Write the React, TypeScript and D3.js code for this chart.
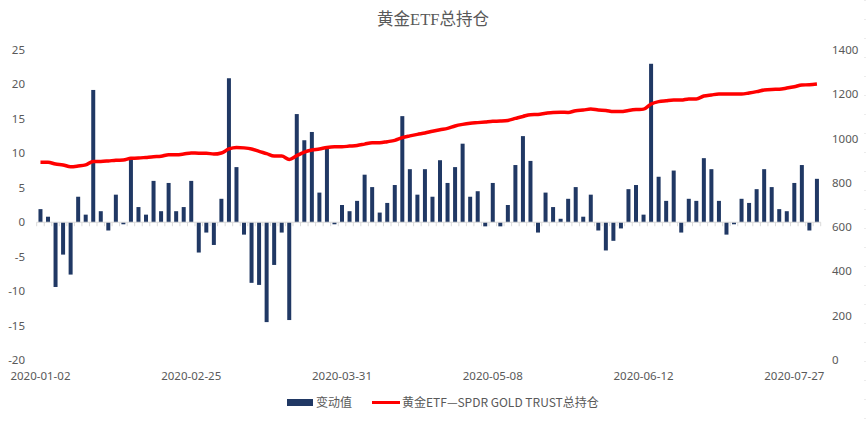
import React from 'react';
import * as d3 from 'd3';

// 变动值 (tonnes), one per trading record
const changes: number[] = [
  1.9, 0.8, -9.4, -4.7, -7.6, 3.7, 1.1, 19.2, 1.6, -1.2,
  4.0, -0.3, 9.1, 2.2, 1.1, 6.0, 1.6, 5.7, 1.6, 2.2,
  6.0, -4.4, -1.5, -3.3, 3.4, 20.9, 8.0, -1.8, -8.8, -9.1,
  -14.5, -6.2, -1.5, -14.2, 15.7, 11.9, 13.1, 4.3, 10.9, -0.3,
  2.5, 1.6, 3.1, 6.9, 5.1, 1.4, 2.8, 5.4, 15.4, 7.7,
  4.0, 7.7, 3.7, 9.0, 5.7, 8.0, 11.4, 3.7, 4.5, -0.6,
  5.7, -0.6, 2.5, 8.3, 12.5, 8.9, -1.5, 4.3, 2.2, 0.5,
  3.4, 5.1, 0.8, 4.0, -1.2, -4.1, -2.7, -0.9, 4.8, 5.4,
  1.1, 23.0, 6.6, 3.1, 7.5, -1.5, 3.4, 3.1, 9.3, 7.7,
  3.1, -1.8, -0.3, 3.4, 2.8, 4.8, 7.7, 5.1, 1.9, 1.6,
  5.7, 8.3, -1.2, 6.3,
];

// 黄金ETF—SPDR GOLD TRUST总持仓 (tonnes)
const holdings: number[] = [
  893, 893, 885, 881, 873, 876, 881, 897, 897, 899,
  902, 903, 911, 912, 915, 918, 920, 927, 927, 930,
  935, 934, 934, 930, 935, 953, 960, 958, 953, 942,
  932, 921, 921, 906, 923, 939, 948, 953, 960, 963,
  963, 966, 969, 975, 981, 981, 986, 992, 1004, 1012,
  1019, 1025, 1033, 1040, 1046, 1057, 1064, 1069, 1072, 1075,
  1078, 1079, 1082, 1091, 1100, 1108, 1109, 1114, 1118, 1119,
  1118, 1126, 1129, 1133, 1129, 1127, 1122, 1122, 1127, 1131,
  1133, 1156, 1167, 1171, 1174, 1174, 1179, 1179, 1192, 1197,
  1201, 1201, 1201, 1201, 1206, 1212, 1219, 1222, 1223, 1228,
  1234, 1242, 1243, 1246,
];

// date labels shown every 20 records
const dateLabels: string[] = ['2020-01-02', '2020-02-25', '2020-03-31', '2020-05-08', '2020-06-12', '2020-07-27'];
const labelStep = 20;

const leftTicks = [-20, -15, -10, -5, 0, 5, 10, 15, 20, 25];
const rightTicks = [0, 200, 400, 600, 800, 1000, 1200, 1400];

const W = 866;
const H = 425;
const plotLeft = 36.7;
const plotRight = 820.7;
const plotTop = 50;
const plotBottom = 360;

const textColor = '#595959';
const barColor = '#203864';
const numFont = '"Noto Sans", "Liberation Sans", sans-serif';
const cjkFont = '"Noto Sans CJK SC", "Noto Sans", sans-serif';

export default function App() {
  const idx = changes.map((_, i) => i);
  const x = d3.scaleBand<number>().domain(idx).range([plotLeft, plotRight]).paddingInner(0.47).paddingOuter(0.235);
  const xStep = d3.scaleBand<number>().domain(idx).range([plotLeft, plotRight]);
  const yL = d3.scaleLinear().domain([-20, 25]).range([plotBottom, plotTop]);
  const yR = d3.scaleLinear().domain([0, 1400]).range([plotBottom, plotTop]);

  const line = d3
    .line<number>()
    .x((_, i) => (x(i) as number) + x.bandwidth() / 2)
    .y((d) => yR(d))
    .curve(d3.curveMonotoneX);

  const zeroY = yL(0);

  return (
    <svg width={W} height={H} style={{ position: 'absolute', left: 0, top: 0, background: '#fff' }}>
      <text x={433} y={25} textAnchor="middle" fill={textColor}
        style={{ fontFamily: '"Liberation Serif", "DejaVu Serif", "Noto Sans CJK SC", serif', fontSize: 16.5 }}>
        黄金ETF总持仓
      </text>

      {/* left axis labels */}
      {leftTicks.map((t) => (
        <text key={'l' + t} x={25} y={yL(t)} dy="0.35em" textAnchor="end" fill={textColor}
          style={{ fontFamily: numFont, fontSize: 11.5 }}>
          {t}
        </text>
      ))}

      {/* right axis labels */}
      {rightTicks.map((t) => (
        <text key={'r' + t} x={832} y={yR(t)} dy="0.35em" textAnchor="start" fill={textColor}
          style={{ fontFamily: numFont, fontSize: 11.5 }}>
          {t}
        </text>
      ))}

      {/* bars */}
      {changes.map((v, i) => (
        <rect key={i} x={x(i)} width={x.bandwidth()} y={Math.min(yL(v), zeroY)}
          height={Math.abs(yL(v) - zeroY)} fill={barColor} />
      ))}

      {/* category axis */}
      <line x1={plotLeft} x2={plotRight} y1={zeroY} y2={zeroY} stroke="#d9d9d9" strokeWidth={1} />
      {idx.concat([idx.length]).map((i) => {
        const px = i < idx.length ? (xStep(i) as number) : plotRight;
        return <line key={'t' + i} x1={px} x2={px} y1={zeroY} y2={zeroY + 4} stroke="#d9d9d9" strokeWidth={1} />;
      })}

      {dateLabels.map((d, k) => (
        <text key={d} x={(x(k * labelStep) as number) + x.bandwidth() / 2} y={376} dy="0.35em" textAnchor="middle"
          fill={textColor} style={{ fontFamily: numFont, fontSize: 11.5 }}>
          {d}
        </text>
      ))}

      {/* holdings line */}
      <path d={line(holdings) || ''} fill="none" stroke="#ff0000" strokeWidth={3.5} strokeLinejoin="round" />

      {/* faint chart border on the right */}
      <line x1={865} x2={865} y1={0} y2={H} stroke="#d9d9d9" strokeWidth={1} strokeDasharray="1,18" />

      {/* legend */}
      <rect x={287} y={399} width={26} height={7} fill={barColor} />
      <text x={316} y={402.5} dy="0.35em" fill={textColor} style={{ fontFamily: cjkFont, fontSize: 12 }}>
        变动值
      </text>
      <line x1={372} x2={400} y1={402.5} y2={402.5} stroke="#ff0000" strokeWidth={3} />
      <text x={402} y={402.5} dy="0.35em" fill={textColor} style={{ fontFamily: cjkFont, fontSize: 12 }}>
        黄金ETF—SPDR GOLD TRUST总持仓
      </text>
    </svg>
  );
}
